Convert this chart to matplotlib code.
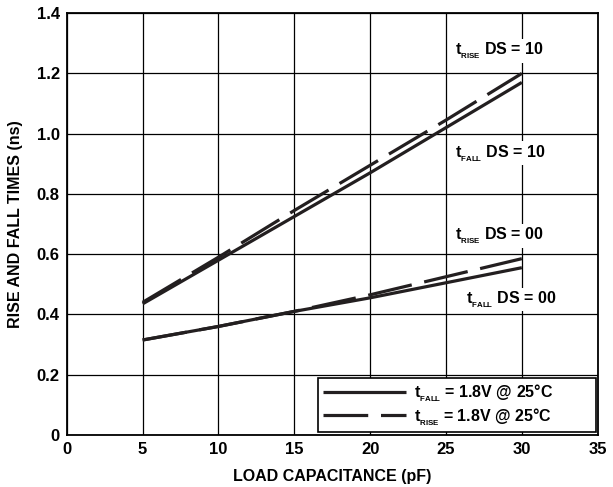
import matplotlib
matplotlib.use('Agg')
import matplotlib.pyplot as plt

plt.rcParams['font.family'] = ['Liberation Sans', 'DejaVu Sans']
plt.rcParams['font.weight'] = 'bold'
plt.rcParams['mathtext.fontset'] = 'custom'
plt.rcParams['mathtext.rm'] = 'Liberation Sans:bold'
plt.rcParams['mathtext.it'] = 'Liberation Sans:bold'
plt.rcParams['mathtext.bf'] = 'Liberation Sans:bold'

# load capacitance (pF)
cap = [5, 10, 15, 20, 25, 30]
# rise / fall times (ns)
fall_ds10 = [0.435, 0.58, 0.725, 0.87, 1.02, 1.17]
rise_ds10 = [0.44, 0.59, 0.745, 0.895, 1.045, 1.20]
fall_ds00 = [0.315, 0.36, 0.41, 0.455, 0.505, 0.555]
rise_ds00 = [0.315, 0.36, 0.41, 0.465, 0.525, 0.585]

xticks = [0, 5, 10, 15, 20, 25, 30, 35]
yticks = [0, 0.2, 0.4, 0.6, 0.8, 1.0, 1.2, 1.4]
ytick_labels = ['0', '0.2', '0.4', '0.6', '0.8', '1.0', '1.2', '1.4']

T_FALL = r'$\mathrm{t}_{{}_{\mathrm{FALL}}}$'
T_RISE = r'$\mathrm{t}_{{}_{\mathrm{RISE}}}$'

col = '#231f20'
fs = 11.5
dpi = 100
fig = plt.figure(figsize=(613 / dpi, 487 / dpi), dpi=dpi, facecolor='w')
ax = fig.add_axes([0.109, 0.107, 0.866, 0.866])

ax.plot(cap, fall_ds10, color=col, lw=2.3, solid_capstyle='butt', zorder=3,
        label=T_FALL + ' = 1.8V @ 25°C')
ax.plot(cap, rise_ds10, color=col, lw=2.3, dashes=(14, 4), zorder=3,
        label=T_RISE + ' = 1.8V @ 25°C')
ax.plot(cap, fall_ds00, color=col, lw=2.3, solid_capstyle='butt', zorder=3)
ax.plot(cap, rise_ds00, color=col, lw=2.3, dashes=(14, 4), zorder=3)

ax.set_xlim(0, 35)
ax.set_ylim(0, 1.4)
ax.set_xticks(xticks)
ax.set_yticks(yticks)
ax.set_yticklabels(ytick_labels)
ax.tick_params(length=0, labelsize=12, pad=5)
for lab in ax.get_xticklabels() + ax.get_yticklabels():
    lab.set_fontweight('bold')
ax.grid(color='k', lw=0.9, zorder=1)
for sp in ax.spines.values():
    sp.set_linewidth(1.3)

ax.set_xlabel('LOAD CAPACITANCE (pF)', fontsize=fs, fontweight='bold', labelpad=9)
ax.set_ylabel('RISE AND FALL TIMES (ns)', fontsize=fs, fontweight='bold', labelpad=10)

box = dict(facecolor='w', edgecolor='none', pad=1)
ax.text(28.5, 1.275, T_RISE + ' DS = 10', ha='center', va='center',
        fontsize=fs, fontweight='bold', bbox=box, zorder=2)
ax.text(28.6, 0.935, T_FALL + ' DS = 10', ha='center', va='center',
        fontsize=fs, fontweight='bold', bbox=box, zorder=2)
ax.text(28.5, 0.66, T_RISE + ' DS = 00', ha='center', va='center',
        fontsize=fs, fontweight='bold', bbox=box, zorder=2)
ax.text(29.3, 0.45, T_FALL + ' DS = 00', ha='center', va='center',
        fontsize=fs, fontweight='bold', bbox=box, zorder=2)

leg = ax.legend(loc='lower left', bbox_to_anchor=(0.473, 0.006, 0.524, 0.12),
                mode='expand', fontsize=fs, handlelength=5.2, handletextpad=0.5,
                borderaxespad=0, fancybox=False, framealpha=1, edgecolor='k',
                borderpad=0.3, labelspacing=0.1)
leg.get_frame().set_linewidth(1.2)
for t in leg.get_texts():
    t.set_fontweight('bold')

fig.savefig('out.png', dpi=dpi, facecolor='w')
